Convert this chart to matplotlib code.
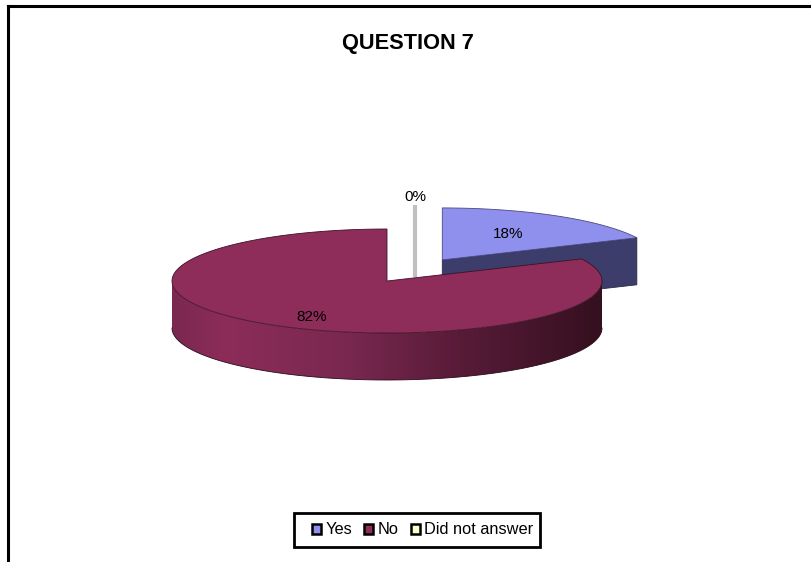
import matplotlib
matplotlib.use("Agg")
import matplotlib.pyplot as plt
import numpy as np
from matplotlib.colors import LinearSegmentedColormap
from matplotlib.patches import Patch, Polygon, Rectangle

plt.rcParams['font.family'] = ['Liberation Sans', 'DejaVu Sans']

categories = ['Yes', 'No', 'Did not answer']
shares = [18, 82, 0]
top_colors = ['#8f8fee', '#8e2c5a', '#ffffcc']
title = 'QUESTION 7'

# pie geometry in pixels
cx, cy = 387, 281
rx, ry = 215, 52
depth = 47
explode = 0.48


def rim(a0, a1, x0, y0, dy=0):
    # clockwise from 12 o'clock, squashed to look tilted
    t = np.radians(np.linspace(a0, a1, 200))
    return np.column_stack([x0 + rx * np.sin(t), y0 - ry * np.cos(t) + dy])


fig = plt.figure(figsize=(8.11, 5.62), dpi=100)
ax = fig.add_axes([0, 0, 1, 1])
ax.set_xlim(0, 811)
ax.set_ylim(562, 0)
ax.axis('off')

# outer frame: only top and left edges show
ax.plot([8, 8], [562, 6], color='black', lw=2.2, solid_capstyle='projecting')
ax.plot([8, 811], [6, 6], color='black', lw=2.2, solid_capstyle='projecting')

yes_end = shares[0] / sum(shares) * 360
mid = np.radians(yes_end / 2)
yes_x = cx + explode * rx * np.sin(mid)
yes_y = cy - explode * ry * np.cos(mid)

# Yes slice, pulled out of the pie
corner = rim(yes_end, yes_end, yes_x, yes_y)[0]
wall = [(yes_x, yes_y), tuple(corner), (corner[0], corner[1] + depth), (yes_x, yes_y + depth)]
ax.add_patch(Polygon(wall, closed=True, fc='#3d3d6b', ec='#2a2a4a', lw=0.6, zorder=2))
pts = np.vstack([[yes_x, yes_y], rim(0, yes_end, yes_x, yes_y)])
ax.add_patch(Polygon(pts, closed=True, fc=top_colors[0], ec='#4a4a80', lw=0.6, zorder=3))

# leader line for the empty slice
ax.plot([415, 415], [205, 277], color='#c0c0c0', lw=3, solid_capstyle='butt', zorder=1)

# No slice side wall with left to right shading
wall_cmap = LinearSegmentedColormap.from_list(
    'wall', [(0, '#7a2850'), (0.12, '#8c2c59'), (0.4, '#7a2850'), (0.65, '#5a1c3a'), (1, '#35101f')])
front = rim(90, 270, cx, cy)
back = rim(270, 90, cx, cy, depth)
wall_path = Polygon(np.vstack([front, back]), closed=True, fc='none', ec='none', zorder=4)
ax.add_patch(wall_path)
im = ax.imshow(np.linspace(0, 1, 256).reshape(1, -1), cmap=wall_cmap, aspect='auto',
               extent=[cx - rx, cx + rx, cy + ry + depth, cy - ry], zorder=4)
im.set_clip_path(wall_path)
ax.set_xlim(0, 811)
ax.set_ylim(562, 0)
ax.plot(back[:, 0], back[:, 1], color='#2a0c18', lw=0.6, zorder=5)

# No slice top face
pts = np.vstack([[cx, cy], rim(yes_end, 360, cx, cy)])
ax.add_patch(Polygon(pts, closed=True, fc=top_colors[1], ec='#3c1226', lw=0.6, zorder=6))

ax.text(508, 234, f'{shares[0]}%', ha='center', va='center', fontsize=11, zorder=7)
ax.text(312, 317, f'{shares[1]}%', ha='center', va='center', fontsize=11, zorder=7)
ax.text(415, 197, f'{shares[2]}%', ha='center', va='center', fontsize=11, zorder=7)

ax.text(407.5, 44, title, ha='center', va='center', fontsize=15.7, fontweight='bold')

# legend box is drawn apart so the entries can sit right of centre in it
ax.add_patch(Rectangle((294, 513), 246, 34, fc='white', ec='black', lw=2, zorder=8))
handles = [Patch(fc=c, ec='black', lw=1.8) for c in top_colors]
leg = ax.legend(handles, categories, ncol=3, loc='center', bbox_to_anchor=(422.5 / 811, 1 - 530 / 562),
                fontsize=11.8, frameon=False,
                handlelength=0.55, handleheight=0.55, handletextpad=0.25, columnspacing=0.75,
                borderpad=0, borderaxespad=0)
leg.set_zorder(9)

fig.savefig('out.png', dpi=100)
